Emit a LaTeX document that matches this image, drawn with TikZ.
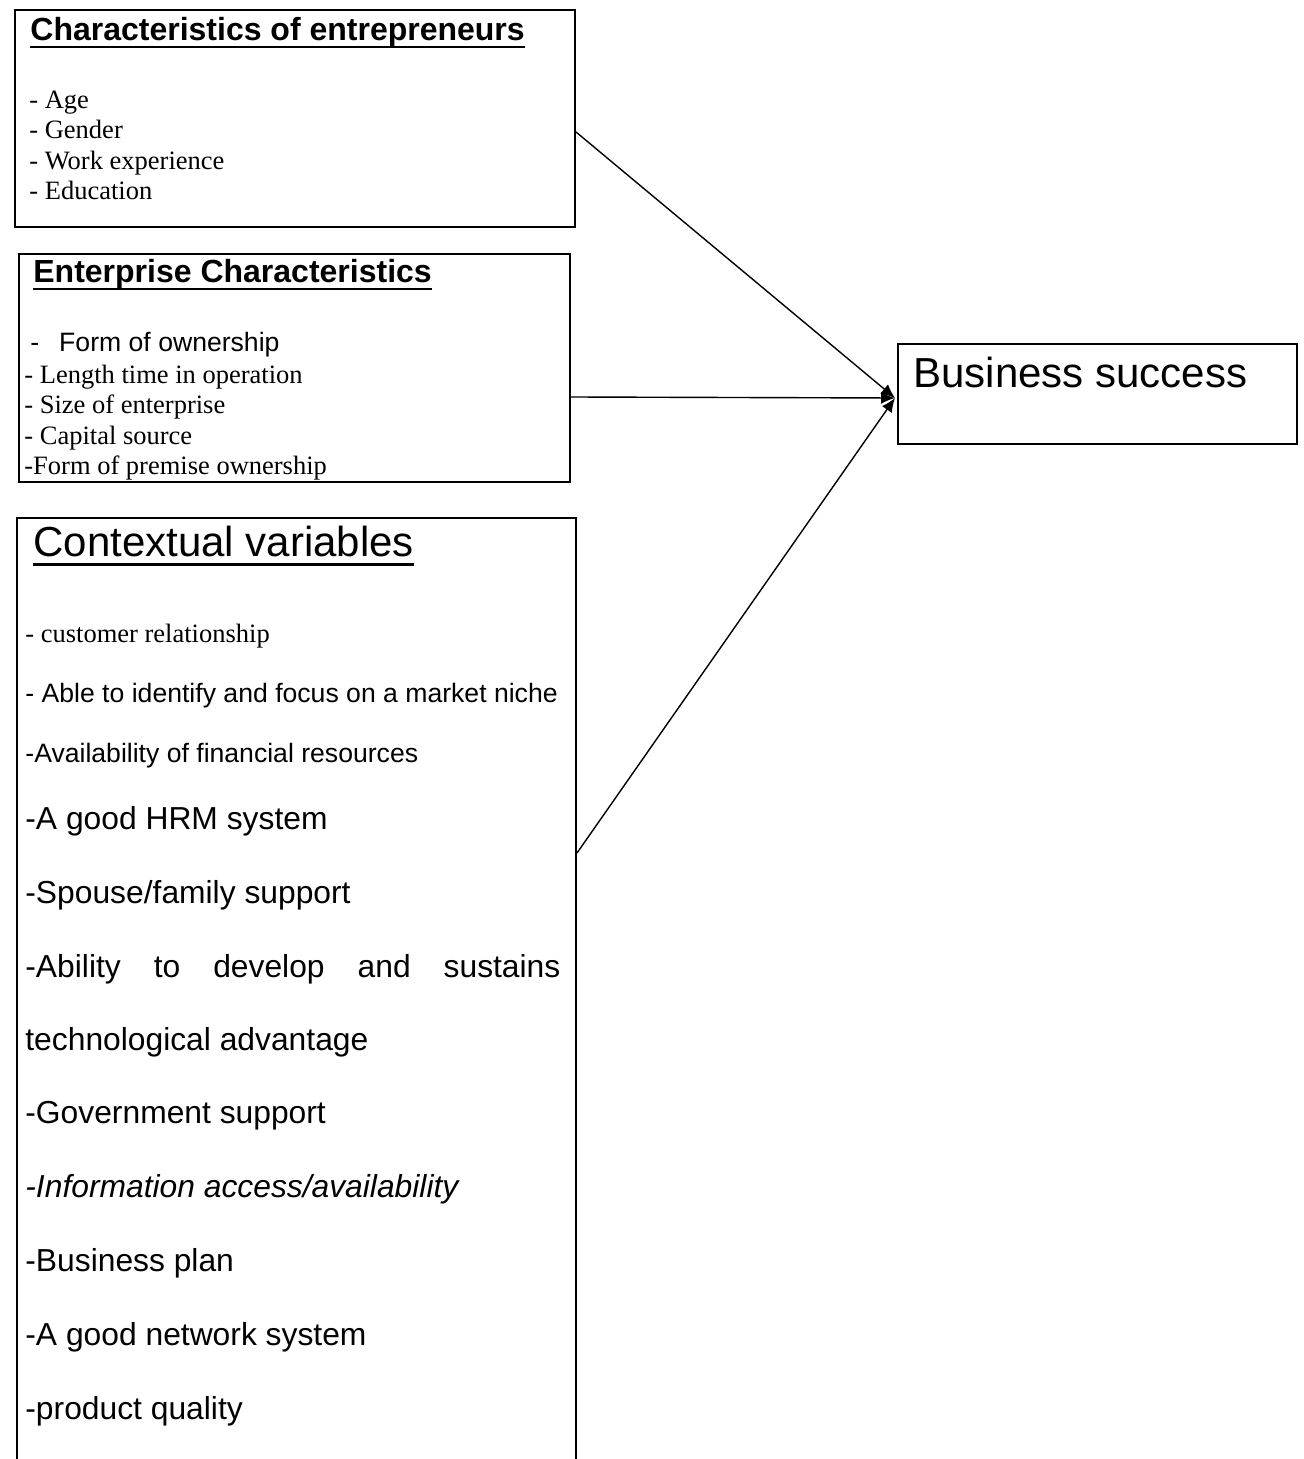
\documentclass[tikz,border=0pt]{standalone}
\usepackage{fontspec}
\setmainfont{Liberation Serif}
\setsansfont{Liberation Sans}
\usetikzlibrary{arrows.meta, positioning, calc}
\tikzset{
    box/.style={draw, line width=1pt, inner sep=0pt, anchor=north west},
    head/.style={font=\sffamily\bfseries\fontsize{16}{19}\selectfont, anchor=mid west, inner sep=0pt},
    bighead/.style={font=\sffamily\fontsize{21}{25}\selectfont, anchor=mid west, inner sep=0pt},
    item/.style={font=\rmfamily\fontsize{13.25}{15}\selectfont, anchor=mid west, inner sep=0pt},
    sitem/.style={font=\sffamily\fontsize{13.3}{15}\selectfont, anchor=mid west, inner sep=0pt},
    litem/.style={font=\sffamily\fontsize{15.9}{19}\selectfont, anchor=mid west, inner sep=0pt},
    link/.style={-{Latex[length=7pt,width=6pt]}, line width=0.7pt},
    rule/.style={line width=1.4pt},
}

\begin{document}
\begin{tikzpicture}[x=0.5pt, y=-0.5pt]
    \useasboundingbox (0,0) rectangle (1303,1459);

    % Kaesten
    \node[box, minimum width=280pt, minimum height=108.5pt] (ent) at (14,9) {};
    \node[box, minimum width=275.5pt, minimum height=114pt] (firm) at (18,253) {};
    \node[box, minimum width=279.5pt, minimum height=480pt] (ctx) at (16,517) {};
    \node[box, minimum width=199.5pt, minimum height=50pt] (biz) at (897,343) {};

    % Unternehmer
    \node[head] (ent-title) at (30,36) {Characteristics of entrepreneurs};
    \foreach \txt/\yy [count=\i] in {Age/104, Gender/134, Work experience/165, Education/195} {
        \node[item] (ent\i) at (29,\yy) {- \txt};
    }

    % Unternehmen
    \node[head] (firm-title) at (33,278) {Enterprise Characteristics};
    \node[sitem] (firm1) at (30,347) {-\hspace{10pt}Form of ownership};
    \node[item] (firm2) at (24,379) {- Length time in operation};
    \node[item] (firm3) at (24,409) {- Size of enterprise};
    \node[item] (firm4) at (24,440) {- Capital source};
    \node[item] (firm5) at (24,470) {-Form of premise ownership};

    % Kontext
    \node[bighead] (ctx-title) at (33,552) {Contextual variables};
    \node[item] (ctx1) at (25,638) {- customer relationship};
    \node[sitem] (ctx2) at (25,698) {- Able to identify and focus on a market niche};
    \node[sitem] (ctx3) at (25,758) {-Availability of financial resources};
    \node[litem] (ctx4) at (25,825) {-A good HRM system};
    \node[litem] (ctx5) at (25,899) {-Spouse/family support};
    \node[litem] (ctx6) at (25,973) {\makebox[267.5pt][s]{-Ability to develop and sustains}};
    \node[litem] (ctx7) at (25,1046) {technological advantage};
    \node[litem] (ctx8) at (25,1119) {-Government support};
    \node[litem, font=\sffamily\itshape\fontsize{15.9}{19}\selectfont] (ctx9) at (25,1193) {-Information access/availability};
    \node[litem] (ctx10) at (25,1267) {-Business plan};
    \node[litem] (ctx11) at (25,1341) {-A good network system};
    \node[litem] (ctx12) at (25,1415) {-product quality};

    % Unterstreichungen
    \foreach \n/\d in {ent-title/3.2pt, firm-title/3.2pt, ctx-title/4pt} {
        \draw[rule] ([yshift=-\d]\n.base west) -- ([yshift=-\d]\n.base east);
    }

    % Erfolg
    \node[bighead, anchor=north west] (biz-title) at (913,357) {Business success};

    % Pfeile
    \draw[link] ([yshift=-6.75pt]ent.east) -- ([xshift=-1pt, yshift=-2pt]biz.west);
    \draw[link] ([yshift=-14.5pt]firm.east) -- ([xshift=-1pt, yshift=-2pt]biz.west);
    \draw[link] ($(ctx.north east)+(0,336)$) -- ([xshift=-1pt, yshift=-2pt]biz.west);
\end{tikzpicture}
\end{document}
